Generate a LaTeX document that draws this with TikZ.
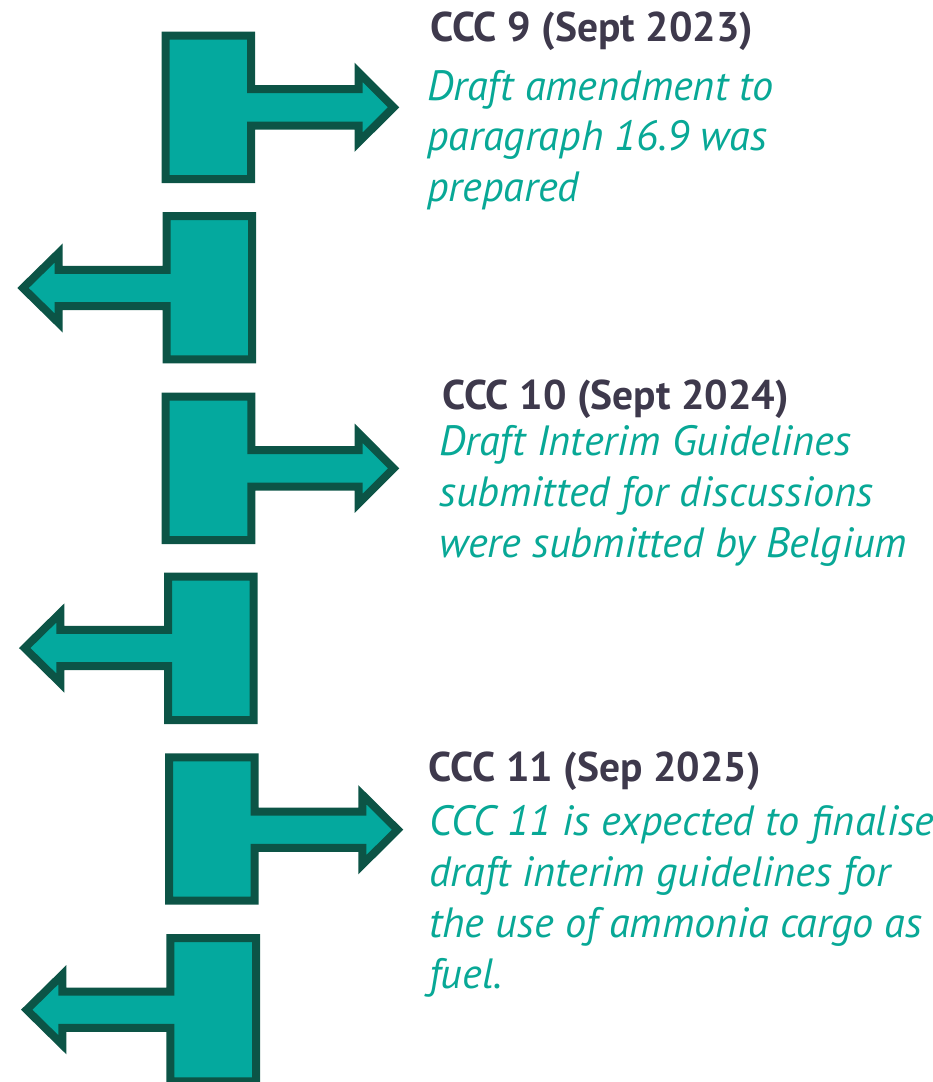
\documentclass[tikz,border=0pt]{standalone}
\usepackage{fontspec}
\setmainfont{PT Sans}
\definecolor{arrfill}{RGB}{4,169,158}
\definecolor{arrline}{RGB}{12,84,70}
\definecolor{headcol}{RGB}{62,57,76}
\definecolor{bodycol}{RGB}{8,168,150}
\tikzset{
  blockshape/.style={fill=arrfill,draw=arrline,line width=8pt,line join=miter},
  headtext/.style={anchor=base west,inner sep=0pt,text=headcol,font=\fontsize{41.5}{48}\selectfont\bfseries},
  bodytext/.style={anchor=base west,inner sep=0pt,text=bodycol,font=\fontsize{42.3}{50}\selectfont\itshape}
}
% right-pointing block: L R T B C Hx X
\newcommand\rblock[7]{%
  \path[blockshape] (#1,#3) -- (#2,#3) -- (#2,#5-18.2) -- (#6,#5-18.2) -- (#6,#5-35) -- (#7,#5)
   -- (#6,#5+35) -- (#6,#5+18.2) -- (#2,#5+18.2) -- (#2,#4) -- (#1,#4) -- cycle;}
% left-pointing block: L R T B C Hx X
\newcommand\lblock[7]{%
  \path[blockshape] (#2,#3) -- (#1,#3) -- (#1,#5-18.2) -- (#6,#5-18.2) -- (#6,#5-35) -- (#7,#5)
   -- (#6,#5+35) -- (#6,#5+18.2) -- (#1,#5+18.2) -- (#1,#4) -- (#2,#4) -- cycle;}
\begin{document}
\begin{tikzpicture}[x=1pt,y=-1pt]
\useasboundingbox (0,0) rectangle (933,1082);
\rblock{165.5}{251}{35.6}{179}{107.3}{358.5}{393.6}
\lblock{166.5}{252}{216}{359.3}{288}{58.7}{23}
\rblock{165.5}{251.3}{396.7}{540}{468.3}{358.7}{393.6}
\lblock{168}{253.7}{576.7}{720}{648}{60.3}{24.7}
\rblock{169}{254.7}{757.3}{900.7}{829.7}{362.3}{397.6}
\lblock{170.3}{256}{938}{1081.3}{1009.7}{62.3}{26.7}

\node[headtext] (h1) at (430,41.7) {CCC 9 (Sept 2023)};
\node[bodytext] (b1a) at (427,100) {Draft amendment to};
\node[bodytext] (b1b) at (427,150.5) {paragraph 16.9 was};
\node[bodytext] (b1c) at (427,201) {prepared};

\node[headtext] (h2) at (442,409.3) {CCC 10 (Sept 2024)};
\node[bodytext] (b2a) at (439,455.5) {Draft Interim Guidelines};
\node[bodytext] (b2b) at (439,506.5) {submitted for discussions};
\node[bodytext] (b2c) at (439,557) {were submitted by Belgium};

\node[headtext] (h3) at (428.5,781.7) {CCC 11 (Sep 2025)};
\node[bodytext] (b3a) at (429,835) {CCC 11 is expected to finalise};
\node[bodytext] (b3b) at (429,886) {draft interim guidelines for};
\node[bodytext] (b3c) at (429,937) {the use of ammonia cargo as};
\node[bodytext] (b3d) at (429,988) {fuel.};
\end{tikzpicture}
\end{document}
